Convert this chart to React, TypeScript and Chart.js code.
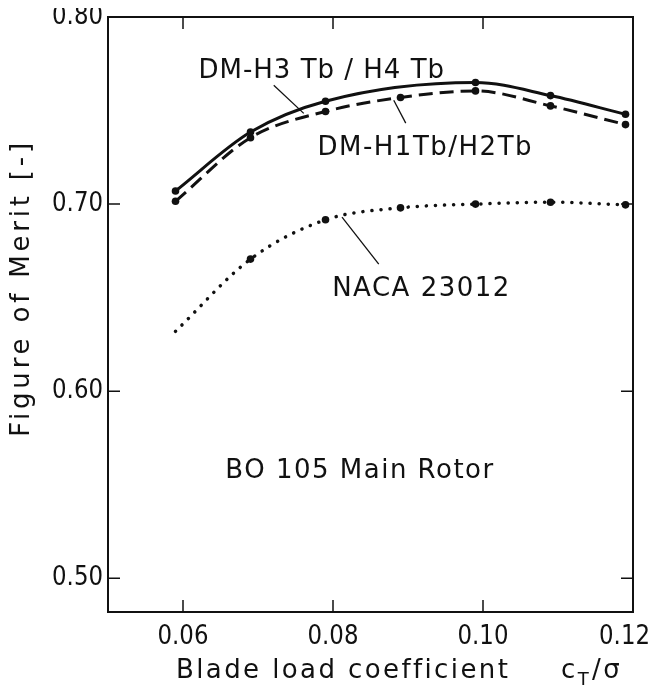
import React, { useEffect, useRef } from "react";
import { Chart, registerables } from "chart.js";

Chart.register(...registerables);

// ---- data ----
const ctSigma = [0.059, 0.069, 0.079, 0.089, 0.099, 0.109, 0.119];
const fomH3H4 = [0.707, 0.7385, 0.755, null, 0.765, 0.758, 0.748];
const fomH1H2 = [0.7015, 0.7355, 0.7495, 0.757, 0.7605, 0.7525, 0.7425];
const fomNaca = [0.632, 0.6706, 0.6916, 0.698, 0.700, 0.701, 0.6996];
const nacaMarker = [false, true, true, true, true, true, true];

const xTicks = [0.06, 0.08, 0.1, 0.12];
const yTicks = [0.5, 0.6, 0.7, 0.8];
const xMin = 0.05;
const xMax = 0.12;
const yMin = 0.482;
const yMax = 0.8;

const labelH3 = "DM-H3 Tb / H4 Tb";
const labelH1 = "DM-H1Tb/H2Tb";
const labelNaca = "NACA 23012";
const labelRotor = "BO 105 Main Rotor";
const yTitle = "Figure of Merit [-]";
const xTitleMain = "Blade load coefficient";

// annotation anchors in data coordinates
const notes = [
  { text: labelH3, x: 0.0785, y: 0.7675, lx1: 0.0721, ly1: 0.7635, lx2: 0.0761, ly2: 0.7485, sp: 1 },
  { text: labelH1, x: 0.0923, y: 0.7262, lx1: 0.0881, ly1: 0.7555, lx2: 0.0897, ly2: 0.7433, sp: 1.5 },
  { text: labelNaca, x: 0.0918, y: 0.6508, lx1: 0.0812, ly1: 0.693, lx2: 0.0861, ly2: 0.6679, sp: 1.5 },
  { text: labelRotor, x: 0.0836, y: 0.5535, sp: 1.5 },
];

const FONT = "'DejaVu Sans', sans-serif";

function pts(vals: (number | null)[]) {
  const out: { x: number; y: number }[] = [];
  ctSigma.forEach((x, i) => {
    const v = vals[i];
    if (v !== null && v !== undefined) out.push({ x, y: v });
  });
  return out;
}

// draw horizontally condensed text
function narrowText(ctx: any, text: string, x: number, y: number, align: string, k = 0.88) {
  const w = ctx.measureText(text).width * k;
  let left = x;
  if (align === "center") left = x - w / 2;
  else if (align === "right") left = x - w;
  ctx.save();
  ctx.translate(left, y);
  ctx.scale(k, 1);
  ctx.textAlign = "left";
  ctx.fillText(text, 0, 0);
  ctx.restore();
  return w;
}

const decor = {
  id: "decor",
  afterDraw(chart: any) {
    const { ctx, chartArea: a, scales, width } = chart;
    const xs = scales.x;
    const ys = scales.y;
    ctx.save();
    ctx.strokeStyle = "#111";
    ctx.fillStyle = "#111";
    // frame
    ctx.lineWidth = 2;
    ctx.strokeRect(a.left, a.top, a.right - a.left, a.bottom - a.top);
    // inward ticks
    const tl = 12;
    ctx.lineWidth = 1.5;
    ctx.beginPath();
    xTicks.forEach((t) => {
      const px = xs.getPixelForValue(t);
      if (px < a.right - 2) {
        ctx.moveTo(px, a.bottom);
        ctx.lineTo(px, a.bottom - tl);
        ctx.moveTo(px, a.top);
        ctx.lineTo(px, a.top + tl);
      }
    });
    yTicks.forEach((t) => {
      const py = ys.getPixelForValue(t);
      if (py > a.top + 2) {
        ctx.moveTo(a.left, py);
        ctx.lineTo(a.left + tl, py);
        ctx.moveTo(a.right, py);
        ctx.lineTo(a.right - tl, py);
      }
    });
    ctx.stroke();

    // tick labels
    ctx.font = `26px ${FONT}`;
    ctx.textBaseline = "middle";
    yTicks.forEach((t) => {
      narrowText(ctx, t.toFixed(2), a.left - 5, ys.getPixelForValue(t), "right");
    });
    xTicks.forEach((t) => {
      const label = t.toFixed(2);
      const w = ctx.measureText(label).width * 0.88;
      let cx = xs.getPixelForValue(t);
      if (cx + w / 2 > width - 6) cx = width - 6 - w / 2;
      narrowText(ctx, label, cx, a.bottom + 25, "center");
    });

    // annotations
    ctx.font = `26px ${FONT}`;
    ctx.textAlign = "center";
    ctx.textBaseline = "alphabetic";
    notes.forEach((n) => {
      (ctx as any).letterSpacing = `${n.sp}px`;
      ctx.fillText(n.text, xs.getPixelForValue(n.x), ys.getPixelForValue(n.y));
      if (n.lx1 !== undefined) {
        ctx.lineWidth = 1.3;
        ctx.beginPath();
        ctx.moveTo(xs.getPixelForValue(n.lx1), ys.getPixelForValue(n.ly1));
        ctx.lineTo(xs.getPixelForValue(n.lx2), ys.getPixelForValue(n.ly2));
        ctx.stroke();
      }
    });

    // y title
    ctx.save();
    ctx.translate(14, 288);
    ctx.rotate(-Math.PI / 2);
    ctx.font = `26px ${FONT}`;
    (ctx as any).letterSpacing = "3.8px";
    ctx.textAlign = "center";
    ctx.textBaseline = "middle";
    ctx.fillText(yTitle, 0, 0);
    ctx.restore();

    // x title
    ctx.font = `26px ${FONT}`;
    (ctx as any).letterSpacing = "2.4px";
    ctx.textAlign = "left";
    ctx.textBaseline = "alphabetic";
    const bx = 168;
    const by = 678;
    ctx.fillText(xTitleMain, bx, by);
    let cx = 553;
    ctx.fillText("c", cx, by);
    cx += ctx.measureText("c").width;
    ctx.font = `18px ${FONT}`;
    ctx.fillText("T", cx, by + 7);
    cx += ctx.measureText("T").width + 1;
    ctx.font = `26px ${FONT}`;
    ctx.fillText("/σ", cx, by);
    ctx.restore();
  },
};

export default function App() {
  const ref = useRef<HTMLCanvasElement | null>(null);
  useEffect(() => {
    if (!ref.current) return;
    const chart = new Chart(ref.current, {
      type: "line",
      data: {
        datasets: [
          {
            label: labelH3,
            data: pts(fomH3H4),
            borderColor: "#111",
            backgroundColor: "#111",
            borderWidth: 3,
            pointRadius: 3.8,
            pointBorderWidth: 0,
            cubicInterpolationMode: "monotone",
            spanGaps: true,
          },
          {
            label: labelH1,
            data: pts(fomH1H2),
            borderColor: "#111",
            backgroundColor: "#111",
            borderWidth: 3,
            borderDash: [14, 7],
            pointRadius: 3.8,
            pointBorderWidth: 0,
            cubicInterpolationMode: "monotone",
          },
          {
            label: labelNaca,
            data: pts(fomNaca),
            borderColor: "#111",
            backgroundColor: "#111",
            borderWidth: 3.5,
            borderDash: [0.1, 9],
            borderCapStyle: "round",
            pointRadius: nacaMarker.map((m) => (m ? 3.8 : 0)),
            pointBorderWidth: 0,
            cubicInterpolationMode: "monotone",
          },
        ],
      },
      options: {
        animation: false,
        responsive: false,
        devicePixelRatio: 1,
        layout: { padding: { top: 17, right: 23, left: 0, bottom: 0 } },
        plugins: { legend: { display: false }, tooltip: { enabled: false } },
        scales: {
          x: {
            type: "linear",
            min: xMin,
            max: xMax,
            grid: { display: false, drawTicks: false },
            border: { display: false },
            afterBuildTicks: (s: any) => {
              s.ticks = xTicks.map((v) => ({ value: v }));
            },
            afterFit: (s: any) => {
              s.height = 73;
              s.paddingLeft = 0;
              s.paddingRight = 0;
            },
            ticks: { display: false },
          },
          y: {
            type: "linear",
            min: yMin,
            max: yMax,
            grid: { display: false, drawTicks: false },
            border: { display: false },
            afterBuildTicks: (s: any) => {
              s.ticks = yTicks.map((v) => ({ value: v }));
            },
            afterFit: (s: any) => {
              s.width = 100;
              s.paddingTop = 0;
              s.paddingBottom = 0;
            },
            ticks: { display: false },
          },
        },
      },
      plugins: [decor],
    });
    return () => chart.destroy();
  }, []);
  return (
    <div style={{ width: 648, height: 685, marginTop: -8 }}>
      <canvas ref={ref} width={648} height={685} style={{ display: "block" }} />
    </div>
  );
}
